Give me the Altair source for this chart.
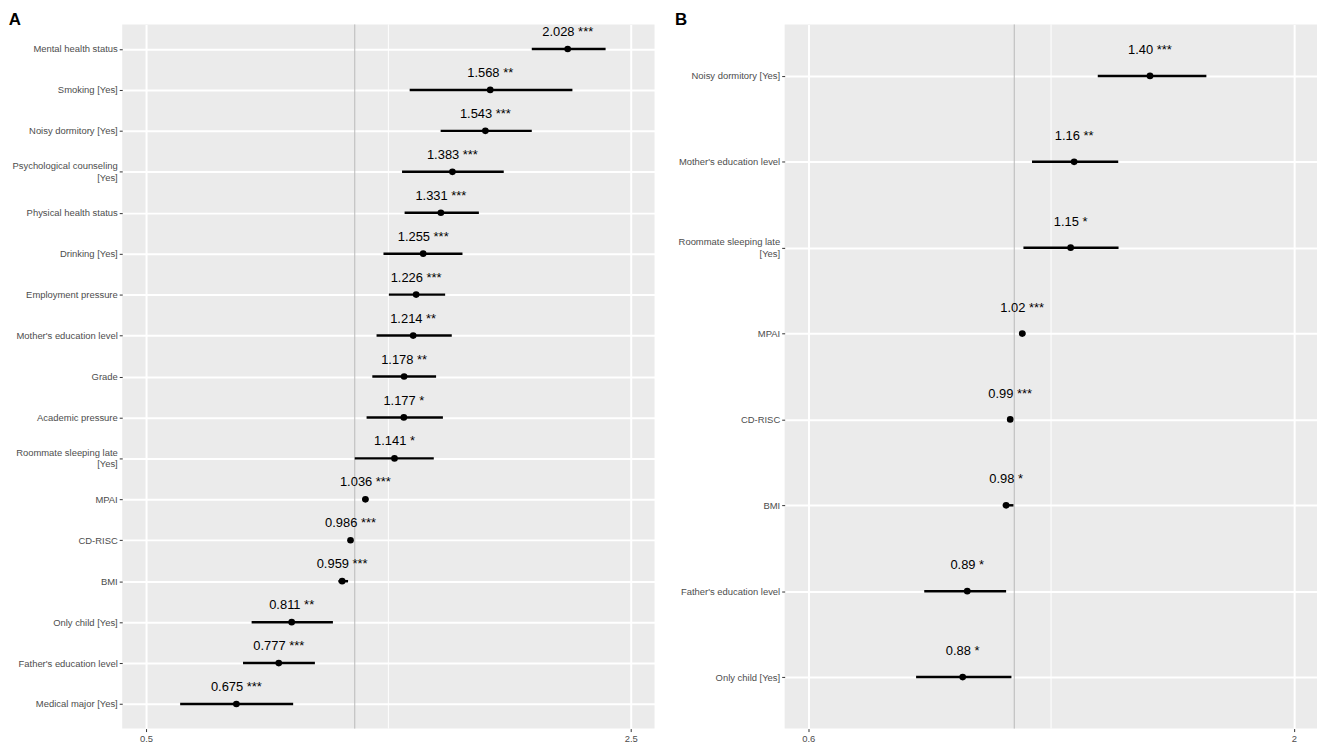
import math
import altair as alt
import pandas as pd

# ---------------- Panel A data ----------------
labels_a = [
    "Mental health status", "Smoking [Yes]", "Noisy dormitory [Yes]",
    "Psychological counseling [Yes]", "Physical health status", "Drinking [Yes]",
    "Employment pressure", "Mother's education level", "Grade", "Academic pressure",
    "Roommate sleeping late [Yes]", "MPAI", "CD-RISC", "BMI", "Only child [Yes]",
    "Father's education level", "Medical major [Yes]",
]
or_a = [2.028, 1.568, 1.543, 1.383, 1.331, 1.255, 1.226, 1.214, 1.178, 1.177,
        1.141, 1.036, 0.986, 0.959, 0.811, 0.777, 0.675]
lo_a = [1.80, 1.20, 1.33, 1.17, 1.18, 1.10, 1.12, 1.075, 1.06, 1.04,
        1.00, 1.026, 0.980, 0.947, 0.71, 0.69, 0.56]
hi_a = [2.30, 2.06, 1.80, 1.64, 1.51, 1.43, 1.35, 1.38, 1.31, 1.34,
        1.30, 1.046, 0.992, 0.978, 0.93, 0.876, 0.815]
sig_a = ["***", "**", "***", "***", "***", "***", "***", "**", "**", "*",
         "*", "***", "***", "***", "**", "***", "***"]
ticks_a = [0.5, 2.5]
domain_a = [0.462, 2.706]

# ---------------- Panel B data ----------------
labels_b = [
    "Noisy dormitory [Yes]", "Mother's education level", "Roommate sleeping late [Yes]",
    "MPAI", "CD-RISC", "BMI", "Father's education level", "Only child [Yes]",
]
or_b = [1.40, 1.16, 1.15, 1.02, 0.99, 0.98, 0.89, 0.88]
lo_b = [1.23, 1.045, 1.023, 1.012, 0.985, 0.972, 0.80, 0.784]
hi_b = [1.61, 1.294, 1.295, 1.028, 0.995, 0.998, 0.98, 0.993]
sig_b = ["***", "**", "*", "***", "***", "*", "*", "*"]
ticks_b = [0.6, 2]
domain_b = [0.566, 2.118]

ref_value = [1]

FONT = "Liberation Sans"
BG = "#EBEBEB"
H = 709


def panel(title, labels, ors, los, his, sigs, ticks, domain, decimals, dy,
          width):
    df = pd.DataFrame({"term": labels, "or": ors, "lo": los, "hi": his, "sig": sigs})
    df["label"] = [f"{v:.{decimals}f} {s}" for v, s in zip(ors, sigs)]
    minor = pd.DataFrame({"x": [math.sqrt(ticks[0] * ticks[1])]})
    ref = pd.DataFrame({"x": ref_value})

    xscale = alt.Scale(type="log", domain=domain, nice=False)
    xaxis = alt.Axis(title=None, values=ticks, format="~g", grid=True,
                     gridColor="white", gridWidth=2, tickSize=3,
                     labelPadding=2, labelFlush=False)
    yenc = alt.Y(
        "term:N", sort=labels,
        scale=alt.Scale(type="point", padding=0.6),
        axis=alt.Axis(
            title=None, grid=True, gridColor="white", gridWidth=2,
            tickSize=3, labelPadding=2, labelLimit=200,
            labelExpr="length(datum.label) > 25 ? [replace(datum.label, ' [Yes]', ''), '[Yes]'] : datum.label",
            labelOffset={"condition": {"test": "length(datum.label) > 25", "value": -6}, "value": 0},
        ),
    )

    minor_rule = alt.Chart(minor).mark_rule(color="white", strokeWidth=1).encode(
        x=alt.X("x:Q", scale=xscale, axis=xaxis)
    )
    ref_rule = alt.Chart(ref).mark_rule(color="#B8B8B8", strokeWidth=1).encode(
        x=alt.X("x:Q", scale=xscale, axis=xaxis)
    )
    base = alt.Chart(df)
    bars = base.mark_rule(color="black", strokeWidth=2.5).encode(
        x=alt.X("lo:Q", scale=xscale, axis=xaxis), x2="hi:Q", y=yenc
    )
    pts = base.mark_circle(size=45, color="black", opacity=1).encode(
        x=alt.X("or:Q", scale=xscale, axis=xaxis), y=yenc
    )
    txt = base.mark_text(dy=dy, fontSize=13, font=FONT, color="black",
                         baseline="middle", align="center").encode(
        x=alt.X("or:Q", scale=xscale, axis=xaxis), y=yenc, text="label:N"
    )
    return alt.layer(minor_rule, ref_rule, bars, pts, txt).properties(
        width=width, height=H,
        title=alt.TitleParams(title, anchor="start", fontSize=17,
                              fontWeight="bold", font=FONT, color="black",
                              offset=-5, dx=-3),
    )


pa = panel("A", labels_a, or_a, lo_a, hi_a, sig_a, ticks_a, domain_a, 3, -17, 536)
pb = panel("B", labels_b, or_b, lo_b, hi_b, sig_b, ticks_b, domain_b, 2, -26, 536)

chart = (
    alt.hconcat(pa, pb, spacing=20)
    .properties(padding=0)
    .configure_view(fill=BG, stroke=None)
    .configure_axis(labelFont=FONT, labelFontSize=9.5, labelColor="#4D4D4D",
                    tickColor="#333333", domain=False)
)

chart.save("out.html", embed_options={"renderer": "svg", "actions": False})
